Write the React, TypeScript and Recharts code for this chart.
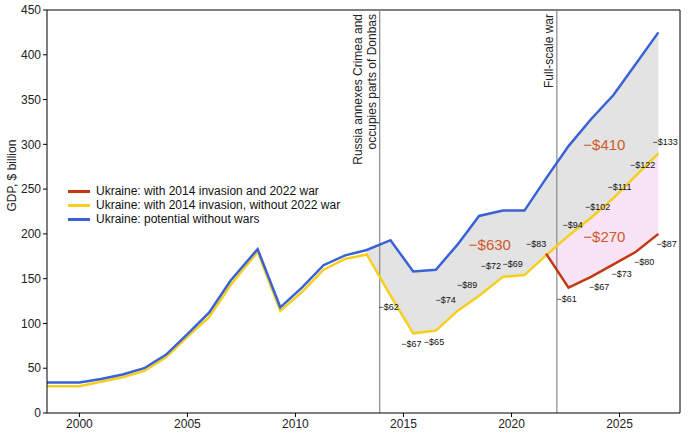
import { ComposedChart, Line, Area, XAxis, YAxis, ReferenceLine, ReferenceDot, LabelList } from "recharts";

const years = [1998.5, 2000, 2001, 2002, 2003, 2004, 2005, 2006, 2007, 2008.25, 2009.3, 2010.3, 2011.3, 2012.3, 2013.3, 2014.4, 2015.45, 2016.5, 2017.5, 2018.5, 2019.6, 2020.6, 2021.6, 2022.64, 2023.68, 2024.72, 2025.76, 2026.8];
const potential = [34, 34, 38, 43, 50, 65, 88, 112, 148, 183, 118, 140, 165, 176, 182, 193, 158, 160, 188, 220, 226, 226, 262, 298, 328, 355, 390, 425];
const noWar2022 = [30, 30, 35, 40, 47, 62, 85, 107, 143, 180, 114, 135, 160, 172, 177, 131, 89, 92, 114, 131, 152, 154, 176, 198, 218, 240, 265, 290];
const withWar: (number | null)[] = [null, null, null, null, null, null, null, null, null, null, null, null, null, null, null, null, null, null, null, null, null, null, 178, 140, 152, 166, 180, 200];
const lossLabels = ["", "", "", "", "", "", "", "", "", "", "", "", "", "", "", "−$62", "−$67", "−$65", "−$74", "−$89", "−$72", "−$69", "−$83", "−$94", "−$102", "−$111", "−$122", "−$133"];
const warLabels = ["", "", "", "", "", "", "", "", "", "", "", "", "", "", "", "", "", "", "", "", "", "", "", "−$61", "−$67", "−$73", "−$80", "−$87"];
const xTicks = [2000, 2005, 2010, 2015, 2020, 2025];
const yTicks = [0, 50, 100, 150, 200, 250, 300, 350, 400, 450];

const data = years.map((x, i) => ({
  x,
  potential: potential[i],
  noWar: noWar2022[i],
  war: withWar[i],
  grey: i >= 14 ? [noWar2022[i], potential[i]] : null,
  pink: withWar[i] != null ? [withWar[i], noWar2022[i]] : null,
  loss: lossLabels[i],
  warLoss: warLabels[i],
}));

const SmallLabel = (props: any) => {
  const { x, y, value, index } = props;
  if (!value) return null;
  const under = index >= 15 && index <= 17;
  const dx = index === 22 ? -20 : under ? -12 : index >= 23 ? -6 : -22;
  const dy = under ? 14 : index === 15 ? 10 : -8;
  return (
    <text x={x + dx} y={y + dy} fontSize={9} fill="#111" fontFamily="Arial, Liberation Sans">
      {value}
    </text>
  );
};

const WarLabel = (props: any) => {
  const { x, y, value, index } = props;
  if (!value) return null;
  const dy = index === 23 ? 14 : 13;
  const dx = index === 23 ? -12 : -2;
  return (
    <text x={x + dx} y={y + dy} fontSize={9} fill="#111" fontFamily="Arial, Liberation Sans">
      {value}
    </text>
  );
};

const bigLabel = (text: string) => ({ value: text, fill: "#d0572a", fontSize: 15, position: "center" as const });

export default function App() {
  const font = "Arial, 'Liberation Sans', sans-serif";
  return (
    <div style={{ position: "absolute", left: 0, top: 0, width: 688, height: 448, background: "#fff", fontFamily: font }}>
      <ComposedChart width={688} height={448} data={data} margin={{ top: 10, right: 8, bottom: 10, left: 0 }}>
        <XAxis dataKey="x" type="number" domain={[1998.5, 2027.8]} ticks={xTicks} allowDataOverflow height={25}
          tick={{ fontSize: 12, fill: "#222" }} stroke="#000" tickSize={4} />
        <YAxis type="number" domain={[0, 450]} ticks={yTicks} width={47} tick={{ fontSize: 12, fill: "#222" }}
          stroke="#000" tickSize={4} label={{ value: "GDP, $ billion", angle: -90, position: "insideLeft", offset: 0, dx: 12, fontSize: 12, fill: "#222" }} />
        <Area dataKey="grey" type="linear" fill="#e3e3e3" fillOpacity={1} stroke="none" isAnimationActive={false} connectNulls={false} />
        <Area dataKey="pink" type="linear" fill="#f8e4f6" fillOpacity={1} stroke="none" isAnimationActive={false} connectNulls={false} />
        <ReferenceLine y={450} stroke="#000" />
        <ReferenceLine x={2027.8} stroke="#000" />
        <ReferenceLine x={2013.9} stroke="#888" strokeWidth={1.2}
          label={(p: any) => (
            <g transform={`translate(${p.viewBox.x - 4},${p.viewBox.y + 4}) rotate(-90)`}>
              <text textAnchor="end" fontSize={12} fill="#222" y={-14}>Russia annexes Crimea and</text>
              <text textAnchor="end" fontSize={12} fill="#222" y={0}>occupies parts of Donbas</text>
            </g>
          )} />
        <ReferenceLine x={2022.1} stroke="#888" strokeWidth={1.2}
          label={(p: any) => (
            <g transform={`translate(${p.viewBox.x - 4},${p.viewBox.y + 4}) rotate(-90)`}>
              <text textAnchor="end" fontSize={12} fill="#222">Full-scale war</text>
            </g>
          )} />
        <Line dataKey="noWar" type="linear" stroke="#f5cf1a" strokeWidth={2.5} dot={false} isAnimationActive={false}>
          <LabelList dataKey="loss" content={<SmallLabel />} />
        </Line>
        <Line dataKey="potential" type="linear" stroke="#3a62d6" strokeWidth={2.5} dot={false} isAnimationActive={false} />
        <Line dataKey="war" type="linear" stroke="#c23a12" strokeWidth={2.5} dot={false} isAnimationActive={false} connectNulls={false}>
          <LabelList dataKey="warLoss" content={<WarLabel />} />
        </Line>
        <ReferenceDot x={2019} y={188} r={0} label={bigLabel("−$630")} />
        <ReferenceDot x={2024.3} y={300} r={0} label={bigLabel("−$410")} />
        <ReferenceDot x={2024.3} y={197} r={0} label={bigLabel("−$270")} />
      </ComposedChart>
      <div style={{ position: "absolute", left: 68, top: 184, fontSize: 12, color: "#111", lineHeight: "14px" }}>
        {[["#c23a12", "Ukraine: with 2014 invasion and 2022 war"], ["#f5cf1a", "Ukraine: with 2014 invasion, without 2022 war"], ["#3a62d6", "Ukraine: potential without wars"]].map(([c, t]) => (
          <div key={t} style={{ display: "flex", alignItems: "center" }}>
            <span style={{ display: "inline-block", width: 22, height: 3, background: c, marginRight: 6 }} />
            {t}
          </div>
        ))}
      </div>
    </div>
  );
}
